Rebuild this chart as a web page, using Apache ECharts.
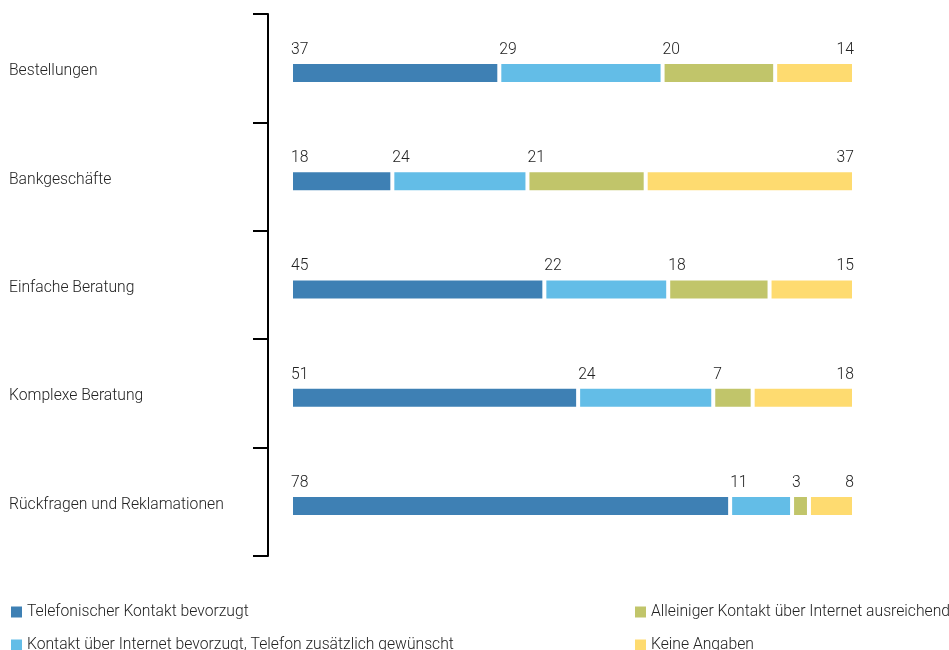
<!DOCTYPE html>
<html>
<head>
<meta charset="utf-8">
<script src="https://cdn.jsdelivr.net/npm/echarts@6/dist/echarts.min.js"></script>
<style>html,body{margin:0;padding:0;background:#fff}#c{width:949px;height:650px}</style>
</head>
<body>
<div id="c"></div>
<script>
const categories = ['Bestellungen', 'Bankgeschäfte', 'Einfache Beratung', 'Komplexe Beratung', 'Rückfragen und Reklamationen'];
const seriesNames = ['Telefonischer Kontakt bevorzugt', 'Kontakt über Internet bevorzugt, Telefon zusätzlich gewünscht', 'Alleiniger Kontakt über Internet ausreichend', 'Keine Angaben'];
const telefon = [37, 18, 45, 51, 78];
const internetPlusTelefon = [29, 24, 22, 24, 11];
const nurInternet = [20, 21, 18, 7, 3];
const keineAngaben = [14, 37, 15, 18, 8];
const colors = ['#3e80b4', '#63bde7', '#c1c56a', '#fedb70'];

const FONT = 'Roboto';
const WEIGHT = 300;
const FS = 15.7;
const values = [telefon, internetPlusTelefon, nurInternet, keineAngaben];

const series = values.map((vals, i) => ({
  name: seriesNames[i],
  type: 'bar',
  stack: 'total',
  xAxisIndex: 1,
  yAxisIndex: 1,
  barWidth: 22,
  data: vals,
  itemStyle: { color: colors[i], borderColor: '#fff', borderWidth: 2 },
  label: {
    show: true,
    position: i === 3 ? ['100%', -12] : [0, -12],
    align: i === 3 ? 'right' : 'left',
    verticalAlign: 'middle',
    color: '#222',
    fontFamily: FONT,
    fontWeight: WEIGHT,
    fontSize: FS
  },
  emphasis: { disabled: true }
}));

const legendBase = {
  orient: 'vertical', top: 604, height: 80, padding: 0,
  itemWidth: 13, itemHeight: 13, itemGap: 17, icon: 'rect',
  textStyle: { color: '#222', fontFamily: FONT, fontWeight: WEIGHT, fontSize: FS, padding: [0, 0, 0, -1] },
  selectedMode: false
};

const chart = echarts.init(document.getElementById('c'));
chart.setOption({
  animation: false,
  color: colors,
  grid: [
    { left: 268, right: 96, top: 14, height: 542 },
    { left: 291, right: 95, top: 19, height: 541 },
    { left: 268, right: 96, top: 17, height: 542 }
  ],
  xAxis: [
    { gridIndex: 0, type: 'value', min: 0, max: 100, show: false },
    { gridIndex: 1, type: 'value', min: 0, max: 100, show: false },
    { gridIndex: 2, type: 'value', min: 0, max: 100, show: false }
  ],
  yAxis: [
    {
      gridIndex: 0, type: 'category', data: categories, inverse: true,
      axisLine: { show: true, lineStyle: { color: '#000', width: 2 } },
      axisTick: { show: true, length: 15, lineStyle: { color: '#000', width: 2 } },
      axisLabel: { show: false },
      splitLine: { show: false }
    },
    { gridIndex: 1, type: 'category', data: categories, inverse: true, show: false },
    {
      gridIndex: 2, type: 'category', data: categories, inverse: true,
      axisLine: { show: false }, axisTick: { show: false }, splitLine: { show: false },
      axisLabel: { align: 'left', margin: 259, color: '#222', fontFamily: FONT, fontWeight: WEIGHT, fontSize: FS }
    }
  ],
  legend: [
    Object.assign({}, legendBase, { left: 9, data: [seriesNames[0], seriesNames[1]] }),
    Object.assign({}, legendBase, { left: 633, data: [seriesNames[2], seriesNames[3]] })
  ],
  series: series
});
</script>
</body>
</html>
